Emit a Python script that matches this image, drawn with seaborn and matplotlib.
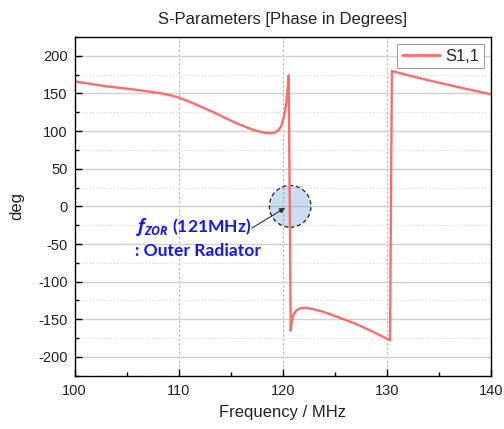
import numpy as np
import pandas as pd
import matplotlib
matplotlib.use("Agg")
import matplotlib.pyplot as plt
from matplotlib.patches import Ellipse
from matplotlib.ticker import MultipleLocator
import seaborn as sns

# ---- data ----
freq_mhz = [100.0, 102.75, 105.95, 107.9, 109.0, 110.0, 111.2, 112.35, 113.5,
            114.6, 115.6, 116.5, 117.3, 118.1, 118.75, 119.2, 119.55, 119.8,
            120.03, 120.2, 120.35, 120.45, 120.55, 120.74, 120.85, 121.0,
            121.3, 121.7, 122.27, 123.0, 123.87, 125.47, 127.08, 128.67,
            130.27, 130.45, 130.6, 132.2, 133.8, 135.4, 137.0, 138.5, 139.9,
            140.0]
phase_deg = [166.0, 160.0, 154.7, 151.0, 148.2, 144.5, 138.0, 131.0, 124.0,
             116.5, 110.0, 105.0, 101.0, 98.0, 97.0, 97.8, 101.0, 106.0,
             115.6, 127.0, 142.0, 156.0, 174.0, -165.0, -152.0, -144.0,
             -137.8, -135.2, -134.7, -136.8, -140.0, -148.0, -156.4, -166.7,
             -177.7, 180.0, 179.2, 173.4, 168.0, 162.8, 157.8, 153.2, 149.0,
             148.7]
series_name = "S1,1"
x_ticks = [100, 110, 120, 130, 140]
y_ticks = [-200, -150, -100, -50, 0, 50, 100, 150, 200]

df = pd.DataFrame({"Frequency": freq_mhz, "Phase": phase_deg})

sns.set_style("white")
plt.rcParams["font.family"] = ["Liberation Sans", "DejaVu Sans"]
plt.rcParams["mathtext.fontset"] = "custom"
plt.rcParams["mathtext.it"] = "Open Sans:italic:bold"
plt.rcParams["mathtext.rm"] = "Open Sans:bold"

fig = plt.figure(figsize=(5.04, 4.29), dpi=100)
ax = fig.add_axes([0.148, 0.124, 0.827, 0.790])

ax.set_xlim(100, 140)
ax.set_ylim(-225, 225)
ax.xaxis.set_major_locator(MultipleLocator(10))
ax.xaxis.set_minor_locator(MultipleLocator(5))
ax.yaxis.set_major_locator(MultipleLocator(50))
ax.yaxis.set_minor_locator(MultipleLocator(25))

ax.grid(False)
ax.grid(axis="y", which="major", color="#d0d0d0", lw=1.0, ls="-", zorder=0)
ax.grid(axis="y", which="minor", color="#d8d8d8", lw=0.8, ls=":", zorder=0)
ax.grid(axis="x", which="major", color="#b8b8b8", lw=0.8, ls=(0, (2, 2)), zorder=0)
ax.set_axisbelow(True)

# highlight circle
circ = Ellipse((120.69, 0), width=3.99, height=55.5,
               facecolor=(0.42, 0.62, 0.83, 0.35), edgecolor="#333333",
               lw=1.0, ls=(0, (3, 2)), zorder=1.5)
ax.add_patch(circ)

sns.lineplot(data=df, x="Frequency", y="Phase", ax=ax, color="#ff6b6b",
             lw=1.7, label=series_name, estimator=None, sort=False, zorder=2)

ax.annotate("", xy=(120.2, -2), xytext=(117.0, -29),
            arrowprops=dict(arrowstyle="-|>", color="#333333", lw=0.8,
                            mutation_scale=8, shrinkA=0, shrinkB=0), zorder=3)
ax.text(105.85, -27, r"$f_{ZOR}$ (121MHz)", color="#1414ff", fontsize=12.6,
        fontweight="bold", family=["Lato", "DejaVu Sans"],
        ha="left", va="center", zorder=4)
ax.text(105.75, -59, ": Outer Radiator", color="#1414ff", fontsize=12.6,
        fontweight="bold", family=["Lato", "DejaVu Sans"],
        ha="left", va="center", zorder=4)

ax.set_xticks(x_ticks)
ax.set_yticks(y_ticks)
ax.set_xticklabels([str(t) for t in x_ticks])
ax.set_yticklabels([str(t) for t in y_ticks])

for s in ax.spines.values():
    s.set_color("black")
    s.set_linewidth(1.0)
    s.set_visible(True)

ax.tick_params(axis="both", which="major", direction="in", length=5,
               width=1.0, color="black", labelsize=10.5, labelcolor="#222222",
               bottom=True, left=True, top=False, right=False)
ax.tick_params(axis="both", which="minor", direction="in", length=3,
               width=1.0, color="black", bottom=True, left=True,
               top=False, right=False)
ax.tick_params(axis="x", which="major", pad=6)
ax.tick_params(axis="y", which="major", pad=5)

ax.set_xlabel("Frequency / MHz", fontsize=12, color="#222222", labelpad=5)
ax.set_ylabel("deg", fontsize=12, color="#222222", labelpad=10)
ax.set_title("S-Parameters [Phase in Degrees]", fontsize=12, color="#222222", pad=9)

leg = ax.legend(loc="upper right", fontsize=12, frameon=True, fancybox=False,
                edgecolor="#a0a0a0", framealpha=1, handlelength=2.3,
                handletextpad=0.35, borderpad=0.25, borderaxespad=0.45)
leg.get_frame().set_linewidth(0.8)
for h in leg.get_lines():
    h.set_linewidth(2.0)

fig.savefig("out.png", dpi=100)
